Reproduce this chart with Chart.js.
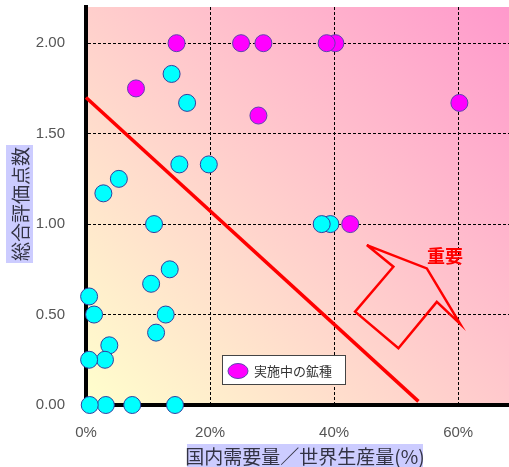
<!DOCTYPE html>
<html><head><meta charset="utf-8">
<script src="https://cdn.jsdelivr.net/npm/chart.js@4"></script>
<style>html,body{margin:0;padding:0;background:#fff;overflow:hidden}#wrap{width:509px;height:467px;position:relative}</style>
</head><body><div id="wrap"><canvas id="c"></canvas></div>
<script>
// Data (x: 国内需要量／世界生産量 %, y: 総合評価点数)
const cyanX = [39.4, 38.0, 19.8, 16.3, 15.05, 14.35, 13.8, 13.5, 12.85, 11.3, 10.97, 10.5, 7.45, 5.3, 3.76, 3.2, 3.06, 2.8, 1.3, 0.6, 0.5, 0.5];
const cyanY = [1.00, 1.00, 1.33, 1.67, 1.33, 0.00, 1.83, 0.75, 0.50, 0.40, 1.00, 0.67, 0.00, 1.25, 0.33, 0.00, 0.25, 1.17, 0.50, 0.00, 0.60, 0.25];
const magX = [60.2, 42.6, 40.2, 38.8, 28.6, 27.8, 25.0, 14.6, 8.06];
const magY = [1.67, 1.00, 2.00, 2.00, 2.00, 1.60, 2.00, 2.00, 1.75];
const lineX = [0, 53.6];
const lineY = [1.70, 0.02];
const arrowX = [45.27, 49.56, 43.39, 50.37, 56.56, 60.32, 54.95, 45.27];
const arrowY = [0.884, 0.764, 0.516, 0.314, 0.570, 0.448, 0.755, 0.884];
const xTicks = [0, 20, 40, 60];
const yTicks = [0, 0.5, 1.0, 1.5, 2.0];
const xTitle = '国内需要量／世界生産量(%)';
const yTitle = '総合評価点数';
const legendLabel = '実施中の鉱種';
const noteText = '重要';
const noteAt = [57.9, 0.82];

const pts = (xs, ys) => xs.map((x, i) => ({x, y: ys[i]}));
const JP = '"Noto Sans CJK JP", "Noto Sans", sans-serif';

const deco = {
  id: 'deco',
  beforeDraw(chart) {
    const {ctx, chartArea: a} = chart;
    const g = ctx.createLinearGradient(a.left, a.bottom, a.right, a.top);
    g.addColorStop(0, '#FFFFCC');
    g.addColorStop(1, '#FF99CC');
    ctx.save();
    ctx.fillStyle = g;
    ctx.fillRect(a.left, a.top, a.right - a.left, a.bottom - a.top);
    ctx.restore();
  },
  afterDraw(chart) {
    const {ctx, scales} = chart;
    ctx.save();
    // y title
    ctx.fillStyle = '#CCCCFF';
    ctx.fillRect(6, 145, 27, 118);
    ctx.translate(20, 204);
    ctx.rotate(-Math.PI / 2);
    ctx.fillStyle = '#333344';
    ctx.font = '19px ' + JP;
    ctx.textAlign = 'center';
    ctx.textBaseline = 'middle';
    ctx.fillText(yTitle, 0, 1);
    ctx.restore();
    // x title
    ctx.save();
    ctx.fillStyle = '#CCCCFF';
    ctx.fillRect(187, 444, 236, 23);
    ctx.fillStyle = '#333344';
    ctx.font = '19px ' + JP;
    ctx.textAlign = 'center';
    ctx.textBaseline = 'middle';
    ctx.fillText(xTitle, 305, 457);
    ctx.restore();
    // legend
    ctx.save();
    ctx.fillStyle = '#FFFFFF';
    ctx.fillRect(222, 355, 124, 30);
    ctx.strokeStyle = '#444';
    ctx.lineWidth = 1;
    ctx.strokeRect(222.5, 355.5, 123, 29);
    ctx.beginPath();
    ctx.ellipse(238, 371, 10, 7.5, 0, 0, Math.PI * 2);
    ctx.fillStyle = '#FF00FF';
    ctx.fill();
    ctx.strokeStyle = '#6040B0';
    ctx.stroke();
    ctx.fillStyle = '#333';
    ctx.font = '13px ' + JP;
    ctx.textAlign = 'left';
    ctx.textBaseline = 'middle';
    ctx.fillText(legendLabel, 254, 371);
    ctx.restore();
    // note
    ctx.save();
    ctx.fillStyle = '#FF0000';
    ctx.font = 'bold 18px ' + JP;
    ctx.textAlign = 'center';
    ctx.textBaseline = 'middle';
    ctx.fillText(noteText, scales.x.getPixelForValue(noteAt[0]), scales.y.getPixelForValue(noteAt[1]));
    ctx.restore();
  }
};

new Chart(document.getElementById('c'), {
  type: 'scatter',
  data: {
    datasets: [
      {label: legendLabel, data: pts(magX, magY), backgroundColor: '#FF00FF', borderColor: '#6040B0', borderWidth: 1, pointRadius: 8.5, clip: false, order: 0},
      {label: 'その他', data: pts(cyanX, cyanY), backgroundColor: '#00FFFF', borderColor: '#3040A0', borderWidth: 1, pointRadius: 8.5, clip: false, order: 1},
      {type: 'line', label: 'line', data: pts(lineX, lineY), borderColor: '#FF0000', borderWidth: 3.5, pointRadius: 0, fill: false, clip: false, order: 2},
      {type: 'line', label: 'arrow', data: pts(arrowX, arrowY), borderColor: '#FF0000', borderWidth: 2.5, pointRadius: 0, fill: false, tension: 0, clip: false, order: 3}
    ]
  },
  options: {
    responsive: true,
    maintainAspectRatio: false,
    animation: false,
    devicePixelRatio: 1,
    layout: {autoPadding: false, padding: {top: 7, right: 0, left: 0, bottom: 0}},
    plugins: {legend: {display: false}, tooltip: {enabled: false}},
    scales: {
      x: {
        type: 'linear', min: 0, max: 68.2,
        afterBuildTicks: s => { s.ticks = xTicks.map(v => ({value: v})); },
        afterFit: s => { s.height = 62; s.paddingLeft = 0; s.paddingRight = 0; },
        ticks: {callback: v => v + '%', color: '#555', font: {size: 15, family: '"Liberation Sans", Arial, sans-serif'}, padding: 19},
        grid: {color: c => (c.tick && c.tick.value === 0) ? 'rgba(0,0,0,0)' : '#000', lineWidth: 1, drawTicks: false},
        border: {display: true, color: '#000', width: 4, dash: [3, 2]}
      },
      y: {
        type: 'linear', min: 0, max: 2.2,
        afterBuildTicks: s => { s.ticks = yTicks.map(v => ({value: v})); },
        afterFit: s => { s.width = 86; s.paddingTop = 0; s.paddingBottom = 0; },
        ticks: {callback: v => Number(v).toFixed(2), color: '#555', font: {size: 15, family: '"Liberation Sans", Arial, sans-serif'}, padding: 21},
        grid: {color: c => (c.tick && c.tick.value === 0) ? 'rgba(0,0,0,0)' : '#000', lineWidth: 1, drawTicks: false},
        border: {display: true, color: '#000', width: 4, dash: [3, 2]}
      }
    }
  },
  plugins: [deco]
});
</script>
</body></html>
